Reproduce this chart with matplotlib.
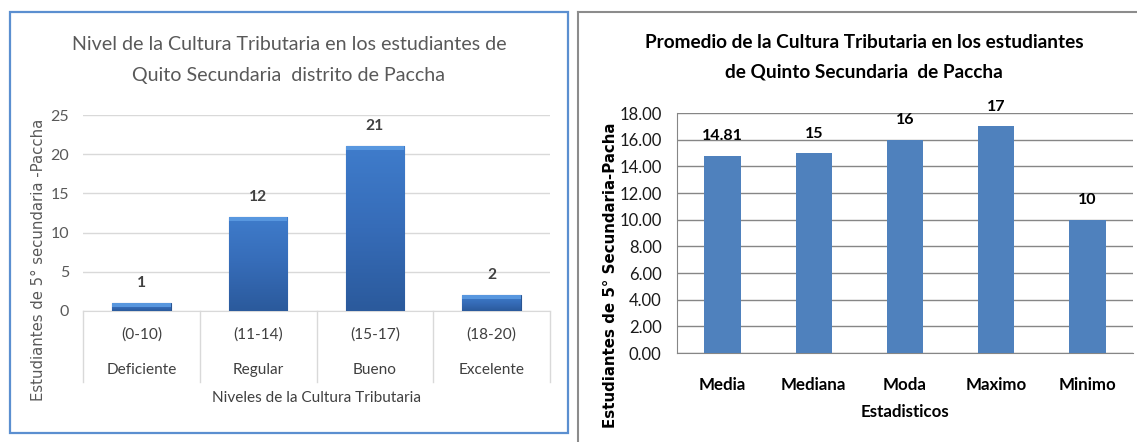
import matplotlib
matplotlib.use("Agg")
import matplotlib.pyplot as plt
import numpy as np
from matplotlib.patches import Rectangle
from matplotlib.colors import LinearSegmentedColormap

# ---- data ----
left_ranges = ["(0-10)", "(11-14)", "(15-17)", "(18-20)"]
left_levels = ["Deficiente", "Regular", "Bueno", "Excelente"]
left_values = [1, 12, 21, 2]

right_categories = ["Media", "Mediana", "Moda", "Maximo", "Minimo"]
right_values = [14.81, 15, 16, 17, 10]
right_labels = ["14.81", "15", "16", "17", "10"]

NARROW = ["Lato", "DejaVu Sans"]
W, H = 1137, 442
fig = plt.figure(figsize=(W / 100, H / 100), dpi=100)
fig.patch.set_facecolor("white")
renderer = fig.canvas.get_renderer()


def fx(px):
    return px / W


def fy(py):
    return 1 - py / H


def fit(texts, target, ref=None):
    """Scale fontsize of texts so that `ref` (default first) is target px wide."""
    ref = ref if ref is not None else texts[0]
    w = ref.get_window_extent(renderer).width
    size = ref.get_fontsize() * target / w
    for t in texts:
        t.set_fontsize(size)
    return size


# panel borders
fig.add_artist(Rectangle((fx(10), fy(433)), fx(558), 421 / H, transform=fig.transFigure,
                         fill=False, edgecolor="#5b8fd0", lw=1.6))
fig.add_artist(plt.Line2D([fx(578), fx(578)], [fy(12), 0], transform=fig.transFigure,
                          color="#8c8c8c", lw=1.5))
fig.add_artist(plt.Line2D([fx(578), 1], [fy(12), fy(12)], transform=fig.transFigure,
                          color="#8c8c8c", lw=1.5))

# ---------------- left chart ----------------
axL = fig.add_axes([fx(83), fy(311), fx(467), 196 / H])
x = np.arange(len(left_values))
bars = axL.bar(x, left_values, width=0.5, color="#3a72c2", edgecolor="#2a5592", lw=0.8, zorder=3)
cmap = LinearSegmentedColormap.from_list("g", ["#2b5a9c", "#366cb8", "#3f7ccb"])
grad = np.linspace(0, 1, 100).reshape(-1, 1)
for b in bars:
    x0, w, h = b.get_x(), b.get_width(), b.get_height()
    im = axL.imshow(grad, extent=(x0, x0 + w, 0, h), origin="lower", cmap=cmap,
                    aspect="auto", zorder=3.5)
    im.set_clip_path(b)
    top = min(0.5, h * 0.5)
    axL.add_patch(Rectangle((x0, h - top), w, top, facecolor="#5c9be2", edgecolor="none",
                            zorder=3.6, alpha=0.9))
axL.set_xlim(-0.5, 3.5)
axL.set_ylim(0, 25)
axL.set_yticks([0, 5, 10, 15, 20, 25])
axL.set_xticks([])
axL.grid(axis="y", color="#d9d9d9", lw=1, zorder=0)
for s in ["top", "right", "left"]:
    axL.spines[s].set_visible(False)
axL.spines["bottom"].set_color("#d9d9d9")
axL.tick_params(axis="y", length=0, pad=10, labelsize=11.5, labelcolor="#595959")
for t in axL.get_yticklabels():
    t.set_family(NARROW)
trans = axL.get_xaxis_transform()
for sep in np.arange(-0.5, 4, 1):
    axL.plot([sep, sep], [0, -0.362], transform=trans, color="#d9d9d9", lw=1, clip_on=False)
rng_txt, lvl_txt, val_txt = [], [], []
for i in range(len(left_values)):
    rng_txt.append(axL.text(x[i], -0.122, left_ranges[i], transform=trans, ha="center",
                            va="center", fontsize=13, color="#404040", family=NARROW))
    lvl_txt.append(axL.text(x[i], -0.301, left_levels[i], transform=trans, ha="center",
                            va="center", fontsize=13, color="#404040", family=NARROW))
    val_txt.append(axL.annotate(str(left_values[i]), (x[i], left_values[i]), xytext=(0, 14.5),
                                textcoords="offset points", ha="center", va="center",
                                fontsize=13, fontweight="bold", color="#404040", family=NARROW))
cat_size = fit(rng_txt + lvl_txt, 70, ref=lvl_txt[0])
fit(val_txt, 18, ref=val_txt[1])
axL.text(1.5, -0.444, "Niveles de la Cultura Tributaria", transform=trans, ha="center",
         va="center", fontsize=cat_size, color="#404040", family=NARROW)
axL.text(-0.096, 0.26, "Estudiantes de 5° secundaria -Paccha", transform=axL.transAxes,
         rotation=90, ha="center", va="center", fontsize=10.7, color="#595959")
t1 = fig.text(fx(289), fy(44), "Nivel de la Cultura Tributaria en los estudiantes de",
              ha="center", va="center", fontsize=15, color="#595959", family=NARROW)
t2 = fig.text(fx(289), fy(76), "Quito Secundaria  distrito de Paccha",
              ha="center", va="center", fontsize=15, color="#595959", family=NARROW)
fit([t1, t2], 435)

# ---------------- right chart ----------------
axR = fig.add_axes([fx(677), fy(353), fx(456), 240 / H])
xr = np.arange(len(right_values))
axR.bar(xr, right_values, width=0.4, color="#4f81bd", zorder=3)
axR.set_xlim(-0.5, 4.5)
axR.set_ylim(0, 18)
axR.set_yticks(np.arange(0, 18.1, 2))
axR.set_yticklabels([f"{v:.2f}" for v in np.arange(0, 18.1, 2)])
axR.grid(axis="y", color="#868686", lw=1, zorder=0)
axR.spines["top"].set_visible(False)
axR.spines["right"].set_visible(False)
axR.spines["left"].set_color("#868686")
axR.spines["bottom"].set_color("#868686")
axR.tick_params(axis="y", length=0, pad=11, labelsize=12, labelcolor="#1a1a1a")
axR.tick_params(axis="x", length=0, pad=17, labelsize=12)
axR.set_xticks(xr)
axR.set_xticklabels(right_categories, fontweight="bold", family=NARROW)
for t in axR.get_yticklabels():
    t.set_family(NARROW)
rxlabs = axR.get_xticklabels()
rcat_size = fit(rxlabs, 65, ref=rxlabs[1])
rv = []
for i in range(len(right_values)):
    rv.append(axR.annotate(right_labels[i], (xr[i], right_values[i]), xytext=(0, 14),
                           textcoords="offset points", ha="center", va="center", fontsize=13,
                           fontweight="bold", color="black", family=NARROW))
fit(rv, 41, ref=rv[0])
axR.text(0.5, -0.246, "Estadisticos", transform=axR.transAxes, ha="center", va="center",
         fontsize=rcat_size, fontweight="bold", family=NARROW)
axR.text(-0.145, 0.325, "Estudiantes de 5° Secundaria-Pacha", transform=axR.transAxes,
         rotation=90, ha="center", va="center", fontsize=10.8, fontweight="bold")
r1 = fig.text(fx(864), fy(43), "Promedio de la Cultura Tributaria en los estudiantes",
              ha="center", va="center", fontsize=15, fontweight="bold", family=NARROW)
r2 = fig.text(fx(864), fy(72), "de Quinto Secundaria  de Paccha",
              ha="center", va="center", fontsize=15, fontweight="bold", family=NARROW)
fit([r1, r2], 440)

fig.savefig("out.png", dpi=100)
